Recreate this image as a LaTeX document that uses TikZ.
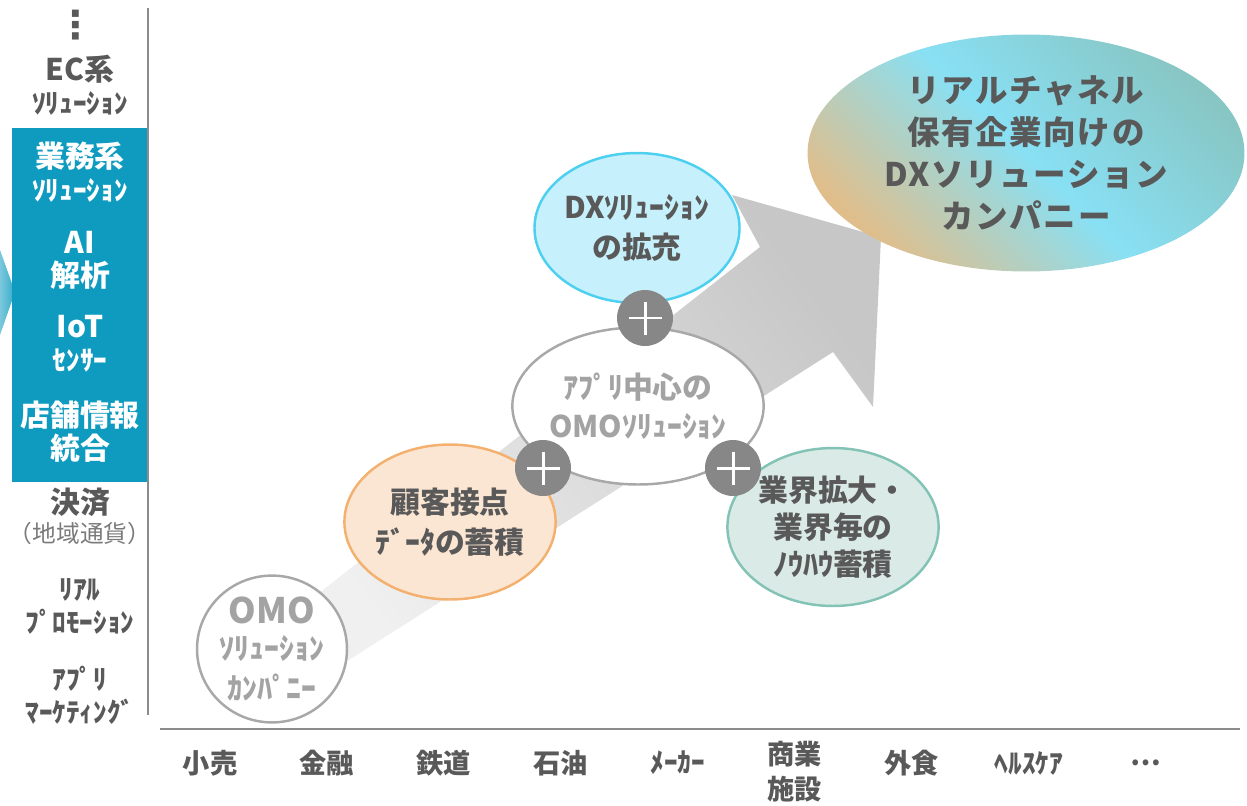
\documentclass[tikz,border=0pt]{standalone}
\usepackage{fontspec}
\usepackage{tikz}
\setmainfont{Noto Sans CJK JP}
\newfontfamily\symfont{DejaVu Sans}
\newfontfamily\widefont{Noto Sans CJK JP}[LetterSpace=5]
\usetikzlibrary{shapes, positioning, backgrounds}

\definecolor{boxblue}{HTML}{0F9BC0}
\definecolor{textdark}{HTML}{595959}
\definecolor{textgray}{HTML}{A3A3A3}
\definecolor{linegray}{HTML}{8C8C8C}
\definecolor{plusgray}{HTML}{878787}
\definecolor{rimgray}{HTML}{A8A8A8}
\definecolor{dxfill}{HTML}{C6F0FB}
\definecolor{dxrim}{HTML}{4DD0EF}
\definecolor{custfill}{HTML}{FBE6D3}
\definecolor{custrim}{HTML}{F3B06E}
\definecolor{indfill}{HTML}{DAEAE6}
\definecolor{indrim}{HTML}{83C3B5}
\definecolor{goaltan}{HTML}{E0BE8C}
\definecolor{goalcyan}{HTML}{88E0F4}
\definecolor{goalteal}{HTML}{88C6C4}

\begin{document}
\begin{tikzpicture}[x=0.02cm, y=-0.02cm, on grid, node distance=2.34cm,
    bubble/.style={ellipse, inner sep=0pt, line width=1.4pt, align=center,
      text=textdark, font=\bfseries\fontsize{17}{22.5}\selectfont},
    plusdot/.style={circle, fill=plusgray, minimum size=1.12cm, inner sep=0pt,
      path picture={
        \draw[white, line width=1.7pt] ([xshift=-0.33cm]path picture bounding box.center) -- ([xshift=0.33cm]path picture bounding box.center);
        \draw[white, line width=1.7pt] ([yshift=-0.33cm]path picture bounding box.center) -- ([yshift=0.33cm]path picture bounding box.center);}},
    side/.style={align=center, text=textdark, font=\bfseries\fontsize{17}{18.7}\selectfont},
    sidew/.style={side, text=white},
    half/.style={font=\bfseries\fontsize{15.5}{18.7}\selectfont},
    ind/.style={text=textdark, font=\bfseries\fontsize{15.5}{20}\selectfont, align=center}]

  \useasboundingbox (0,0) rectangle (1247,805);

  % axes
  \coordinate (v_top) at (148,8);
  \coordinate (v_bot) at (148,715);
  \coordinate (h_l)   at (160,729);
  \coordinate (h_r)   at (1240,729);
  \draw[linegray, line width=1.2pt] (v_top) -- (v_bot);
  \draw[linegray, line width=1.2pt] (h_l) -- (h_r);

  % left column
  \shade[left color=boxblue!55, right color=boxblue!85] (0,250) -- (15,292) -- (0,335) -- cycle;
  \fill[boxblue] (12,128) rectangle (147,482);

  \node (c_dots) at (76,25) {\symfont\bfseries\fontsize{22}{22}\selectfont\color{textdark}⋮};
  \node[side] (c_ec)   at (80,85)  {EC系\\{\fontsize{15.5}{18}\selectfont ｿﾘｭｰｼｮﾝ}};
  \node[sidew] (c_biz) at (80,172) {業務系\\{\fontsize{15.5}{18}\selectfont ｿﾘｭｰｼｮﾝ}};
  \node[sidew] (c_ai)  at (80,260) {AI\\解析};
  \node[sidew] (c_iot) at (80,344) {IoT\\{\fontsize{15.5}{18}\selectfont ｾﾝｻｰ}};
  \node[sidew] (c_shop) at (80,432) {店舗情報\\統合};
  \node[side] (c_pay)  at (80,502) {決済};
  \node[text=textdark!80, font=\fontsize{13.5}{15}\selectfont] (c_local) at (80,533) {（地域通貨）};
  \node[side, half] (c_promo) at (80,606) {ﾘｱﾙ\\ﾌﾟﾛﾓｰｼｮﾝ};
  \node[side, half] (c_mkt)   at (80,695) {ｱﾌﾟﾘ\\ﾏｰｹﾃｨﾝｸﾞ};

  % growth arrow
  \shade[top color=black!22, bottom color=black!6, shading angle=-53]
    (300,608) -- (760,247) -- (732,195) -- (881,237) -- (873,407) -- (833,352) -- (300,691) -- cycle;

  % bubbles
  \node[bubble, draw=rimgray, fill=white, text=textgray, minimum width=3cm, minimum height=2.64cm] (s_omo) at (272,649)
    {{\fontsize{20}{22}\selectfont OMO}\\[-2pt]ｿﾘｭｰｼｮﾝ\\ｶﾝﾊﾟﾆｰ};
  \node[bubble, draw=custrim, fill=custfill, minimum width=4cm, minimum height=3.1cm] (s_cust) at (450,522)
    {顧客接点\\ﾃﾞｰﾀの蓄積};
  \node[bubble, draw=rimgray, fill=white, text=textgray, minimum width=4.4cm, minimum height=3.14cm] (s_app) at (638,406)
    {ｱﾌﾟﾘ中心の\\OMOｿﾘｭｰｼｮﾝ};
  \node[bubble, draw=dxrim, fill=dxfill, minimum width=4cm, minimum height=3cm] (s_dx) at (637,228)
    {DXｿﾘｭｰｼｮﾝ\\の拡充};
  \node[bubble, draw=indrim, fill=indfill, minimum width=4cm, minimum height=3.16cm, font=\bfseries\fontsize{17}{21}\selectfont] (s_ind) at (833,527)
    {業界拡大・\\業界毎の\\ﾉｳﾊｳ蓄積};
  \node[ellipse, inner sep=0pt, minimum width=8.74cm, minimum height=4.74cm, align=center,
    top color=goalteal, bottom color=goaltan, middle color=goalcyan, shading angle=-45,
    text=textdark, font=\widefont\bfseries\fontsize{18.5}{23.8}\selectfont] (s_goal) at (1026,153)
    {リアルチャネル\\保有企業向けの\\DXソリューション\\カンパニー};

  \node[plusdot] (p_0) at (645,318) {};
  \node[plusdot] (p_1) at (543,468) {};
  \node[plusdot] (p_2) at (733,468) {};

  % industries
  \node[ind] (l_0) at (210,763) {小売};
  \node[ind] (l_1) [right of=l_0] {金融};
  \node[ind] (l_2) [right of=l_1] {鉄道};
  \node[ind] (l_3) [right of=l_2] {石油};
  \node[ind] (l_4) [right of=l_3] {ﾒｰｶｰ};
  \node[ind] (l_5) [right of=l_4, yshift=-0.18cm] {商業\\施設};
  \node[ind] (l_6) [right of=l_4, xshift=2.34cm] {外食};
  \node[ind] (l_7) [right of=l_6] {ﾍﾙｽｹｱ};
  \node[ind] (l_8) [right of=l_7] {…};
\end{tikzpicture}
\end{document}
